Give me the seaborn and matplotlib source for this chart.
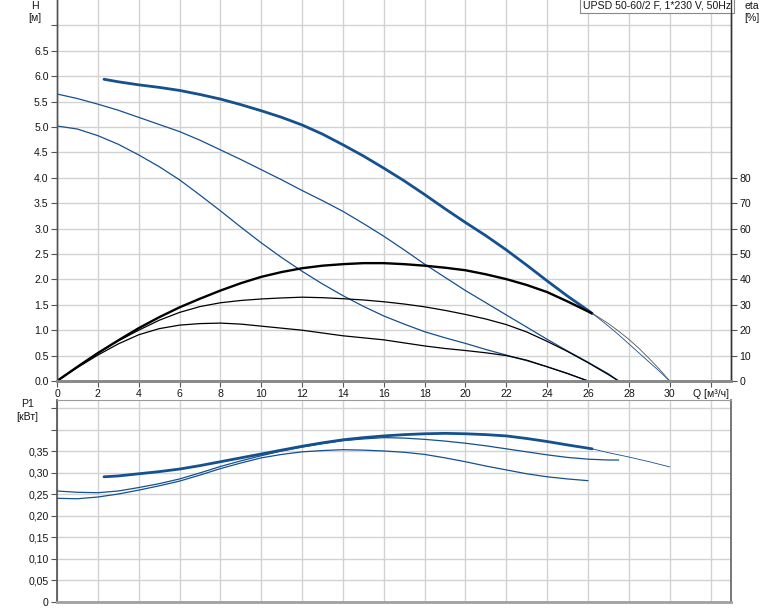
import numpy as np
import pandas as pd
import matplotlib
matplotlib.use("Agg")
import matplotlib.pyplot as plt
import seaborn as sns

# ---------------- data ----------------
# Head curves H [m] vs Q [m3/h]
q_h_max = [2.3, 3, 4, 5, 6, 7, 8, 9, 10, 11, 12, 13, 14, 15, 16, 17, 18, 19, 20,
           21, 22, 23, 24, 25, 26, 26.2]
h_max = [5.94, 5.89, 5.83, 5.78, 5.72, 5.64, 5.55, 5.44, 5.32, 5.19, 5.04, 4.86,
         4.65, 4.43, 4.19, 3.94, 3.67, 3.39, 3.12, 2.86, 2.58, 2.28, 1.97, 1.67,
         1.39, 1.33]
q_h_mid = [0, 1, 2, 3, 4, 5, 6, 7, 8, 9, 10, 11, 12, 13, 14, 15, 16, 17, 18, 19,
           20, 21, 22, 23, 24, 25, 26, 27, 27.5]
h_mid = [5.65, 5.56, 5.45, 5.33, 5.19, 5.05, 4.91, 4.74, 4.55, 4.36, 4.16, 3.96,
         3.75, 3.55, 3.34, 3.10, 2.85, 2.58, 2.30, 2.04, 1.78, 1.54, 1.30, 1.06,
         0.82, 0.59, 0.37, 0.14, 0.0]
q_h_low = [0, 1, 2, 3, 4, 5, 6, 7, 8, 9, 10, 11, 12, 13, 14, 15, 16, 17, 18, 19,
           20, 21, 22, 23, 24, 25, 26]
h_low = [5.02, 4.96, 4.83, 4.66, 4.45, 4.22, 3.96, 3.66, 3.35, 3.03, 2.72, 2.43,
         2.16, 1.91, 1.68, 1.47, 1.28, 1.12, 0.97, 0.85, 0.74, 0.62, 0.51, 0.40,
         0.28, 0.15, 0.0]
q_ext = [26.2, 26.5, 27, 27.5, 28, 28.5, 29, 29.5, 30]
h_ext = [1.33, 1.24, 1.08, 0.91, 0.73, 0.55, 0.37, 0.19, 0.0]

# Efficiency curves eta [%]
q_e_max = [0, 1, 2, 3, 4, 5, 6, 7, 8, 9, 10, 11, 12, 13, 14, 15, 16, 17, 18, 19,
           20, 21, 22, 23, 24, 25, 26.2]
eta_max = [0, 5.6, 11.0, 16.0, 20.8, 25.1, 29.0, 32.4, 35.6, 38.5, 41.0, 42.9,
           44.4, 45.4, 46.0, 46.4, 46.4, 46.0, 45.4, 44.6, 43.6, 42.0, 40.1, 37.8,
           35.0, 31.3, 26.6]
q_e_mid = [0, 1, 2, 3, 4, 5, 6, 7, 8, 9, 10, 11, 12, 13, 14, 15, 16, 17, 18, 19,
           20, 21, 22, 23, 24, 25, 26, 27, 27.5]
eta_mid = [0, 5.6, 11.0, 15.8, 20.0, 23.9, 27.0, 29.3, 30.8, 31.7, 32.3, 32.7,
           33.0, 32.8, 32.4, 31.9, 31.2, 30.3, 29.2, 27.8, 26.2, 24.4, 22.2, 19.3,
           15.6, 11.6, 7.2, 2.5, 0]
q_e_low = [0, 1, 2, 3, 4, 5, 6, 7, 8, 9, 10, 11, 12, 13, 14, 15, 16, 17, 18, 19,
           20, 21, 22, 23, 24, 25, 26]
eta_low = [0, 5.3, 10.2, 14.6, 18.2, 20.6, 22.0, 22.6, 22.8, 22.4, 21.6, 20.8,
           20.0, 18.9, 17.8, 17.0, 16.2, 15.0, 13.8, 12.8, 12.0, 11.1, 10.0, 8.2,
           5.6, 2.9, 0]
eta_ext = [26.6, 25.2, 22.6, 19.6, 16.4, 12.8, 8.8, 4.6, 0]

# Power curves P1 [kW]
q_p_max = [2.3, 3, 4, 5, 6, 7, 8, 9, 10, 11, 12, 13, 14, 15, 16, 17, 18, 19, 20,
           21, 22, 23, 24, 25, 26.2]
p_max = [0.291, 0.293, 0.298, 0.303, 0.309, 0.317, 0.326, 0.335, 0.344, 0.353,
         0.362, 0.370, 0.377, 0.382, 0.386, 0.389, 0.391, 0.392, 0.391, 0.389,
         0.386, 0.380, 0.373, 0.365, 0.356]
q_p_ext = [26.2, 27, 28, 29, 30]
p_ext = [0.356, 0.347, 0.337, 0.326, 0.314]
q_p_mid = [0, 1, 2, 3, 4, 5, 6, 7, 8, 9, 10, 11, 12, 13, 14, 15, 16, 17, 18, 19,
           20, 21, 22, 23, 24, 25, 26, 27, 27.5]
p_mid = [0.258, 0.255, 0.254, 0.258, 0.266, 0.275, 0.286, 0.300, 0.315, 0.328,
         0.340, 0.351, 0.360, 0.368, 0.375, 0.379, 0.382, 0.381, 0.378, 0.374,
         0.369, 0.363, 0.356, 0.349, 0.342, 0.336, 0.332, 0.330, 0.330]
q_p_low = [0, 1, 2, 3, 4, 5, 6, 7, 8, 9, 10, 11, 12, 13, 14, 15, 16, 17, 18, 19,
           20, 21, 22, 23, 24, 25, 26]
p_low = [0.241, 0.240, 0.244, 0.251, 0.260, 0.270, 0.281, 0.295, 0.310, 0.323,
         0.335, 0.343, 0.349, 0.352, 0.354, 0.353, 0.351, 0.348, 0.343, 0.335,
         0.326, 0.316, 0.307, 0.298, 0.291, 0.286, 0.282]

# axis ticks / labels
q_ticks = list(range(0, 34, 2))
q_labels = [str(v) for v in range(0, 32, 2)] + ['Q [м³/ч]']
h_ticks = [i * 0.5 for i in range(15)]
h_labels = [f"{v:.1f}" for v in h_ticks[:-1]] + ['']
eta_ticks = list(range(0, 90, 10))
p_ticks = [i * 0.05 for i in range(10)]
p_labels = ['0', '0,05', '0,10', '0,15', '0,20', '0,25', '0,30', '0,35', '', '']
title = "UPSD 50-60/2 F, 1*230 V, 50Hz"

# ---------------- styling ----------------
sns.set_theme(style="ticks")
plt.rcParams['font.family'] = ['Liberation Sans', 'DejaVu Sans']

BLUE = "#15508f"
BLACK = "#000000"
GRID = "#d2d2d2"
TXT = "#151515"
FS = 7.6

W, H = 774, 611
fig = plt.figure(figsize=(W / 100, H / 100), dpi=100)


def rect(l, t, r, b):
    return [l / W, 1 - b / H, (r - l) / W, (b - t) / H]


ax = fig.add_axes(rect(57, 0, 731, 381))
axp = fig.add_axes(rect(57, 400, 731, 602))
ax2 = ax.twinx()

# ---------------- top chart ----------------
ax.set_xlim(0, 33)
ax.set_ylim(0, 7.5)
ax2.set_ylim(0, 150)
ax.set_axisbelow(True)
ax.grid(True, color=GRID, lw=1.0)


def line(a, x, y, color, lw):
    sns.lineplot(x=x, y=y, ax=a, color=color, lw=lw, sort=False,
                 estimator=None, legend=False)
    a.lines[-1].set_solid_joinstyle('round')
    a.lines[-1].set_solid_capstyle('round')


line(ax, q_h_max, h_max, BLUE, 2.0)
line(ax, q_h_mid, h_mid, BLUE, 0.9)
line(ax, q_h_low, h_low, BLUE, 0.9)
line(ax, q_ext, h_ext, BLUE, 0.6)

line(ax2, q_e_max, eta_max, BLACK, 1.7)
line(ax2, q_e_mid, eta_mid, BLACK, 0.9)
line(ax2, q_e_low, eta_low, BLACK, 0.9)
line(ax2, q_ext, eta_ext, "#555555", 0.6)

ax.set_xticks(q_ticks)
ax.set_xticklabels(q_labels)
ax.set_yticks(h_ticks)
ax.set_yticklabels(h_labels)
ax2.set_yticks(eta_ticks)
ax.set_xlabel('')
ax.set_ylabel('')
ax2.set_ylabel('')
ax.tick_params(axis='both', direction='out', length=4, width=0.8, color='#555555',
               labelsize=FS, labelcolor=TXT, pad=2)
ax2.tick_params(axis='y', direction='out', length=4, width=0.8, color='#555555',
                labelsize=FS, labelcolor=TXT, pad=2)

for a in (ax, ax2):
    a.spines['top'].set_visible(False)
    a.spines['left'].set_color('#555555')
    a.spines['right'].set_color('#333333')
    a.spines['bottom'].set_color('#8a8a8a')
    a.spines['bottom'].set_linewidth(2.0)
    a.spines['left'].set_linewidth(1.0)
    a.spines['right'].set_linewidth(1.0)

ax.text(1.0, 1.0, title, transform=ax.transAxes, ha='right', va='top',
        fontsize=FS, color=TXT,
        bbox=dict(boxstyle='square,pad=0.3', fc='white', ec='#888888', lw=0.8),
        zorder=10)

# ---------------- bottom chart ----------------
axp.set_xlim(0, 33)
axp.set_ylim(0, 0.4695)
axp.set_axisbelow(True)
axp.grid(True, color=GRID, lw=1.0)

line(axp, q_p_max, p_max, BLUE, 2.0)
line(axp, q_p_ext, p_ext, BLUE, 0.6)
line(axp, q_p_mid, p_mid, BLUE, 0.9)
line(axp, q_p_low, p_low, BLUE, 0.9)

axp.set_xticks(q_ticks)
axp.set_xticklabels([])
axp.set_yticks(p_ticks)
axp.set_yticklabels(p_labels)
axp.set_xlabel('')
axp.set_ylabel('')
axp.tick_params(axis='x', length=0)
axp.tick_params(axis='y', direction='out', length=4, width=0.8, color='#555555',
                labelsize=FS, labelcolor=TXT, pad=2)
axp.spines['top'].set_visible(True)
axp.spines['right'].set_visible(True)
axp.spines['top'].set_color('#9a9a9a')
axp.spines['top'].set_linewidth(0.8)
axp.spines['right'].set_color('#666666')
axp.spines['left'].set_color('#555555')
axp.spines['bottom'].set_color('#a0a0a0')
axp.spines['bottom'].set_linewidth(2.0)


# ---------------- axis captions ----------------
def cap(x, y, s):
    fig.text(x / W, 1 - y / H, s, ha='center', va='center', fontsize=FS, color=TXT)


cap(35, 6, 'H')
cap(35, 18, '[м]')
cap(752, 6, 'eta')
cap(752, 18, '[%]')
cap(27.5, 404, 'P1')
cap(27, 417, '[кВт]')

fig.savefig("out.png", dpi=100)
